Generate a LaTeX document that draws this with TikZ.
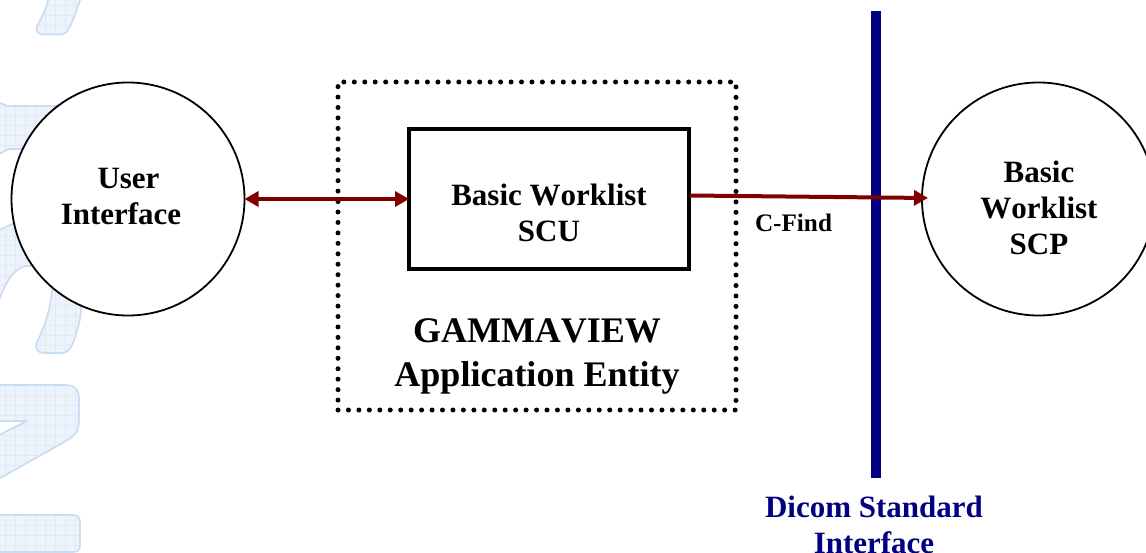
\documentclass[tikz,border=0pt]{standalone}
\usepackage{fontspec}
\setmainfont[Kerning=Off]{Liberation Serif}
\usetikzlibrary{arrows.meta}
\definecolor{wmfillc}{HTML}{EDF3FB}
\definecolor{wmlinec}{HTML}{C8DCF3}
\definecolor{wmgridc}{HTML}{E1E9F5}
\definecolor{arrowc}{HTML}{800000}
\definecolor{bluec}{HTML}{000080}
\newcommand{\wmshape}[1]{%
  \fill[wmfillc] #1;
  \begin{scope}\clip #1;
    \foreach \gx in {5,15,...,105} {\draw[wmgridc,line width=.6pt] (\gx,-10) -- (\gx,560);}
    \foreach \gy in {5,15,...,555} {\draw[wmgridc,line width=.6pt] (-10,\gy) -- (112,\gy);}
  \end{scope}
  \draw[wmlinec,line width=1.6pt,line join=round] #1;}
\tikzset{
  roundnode/.style={circle,draw=black,fill=white,line width=1.8pt,minimum size=233pt,inner sep=0pt,outer sep=0pt},
  boxnode/.style={draw=black,line width=3.2pt,minimum width=280pt,minimum height=140pt,inner sep=0pt,outer sep=0pt},
  dotbox/.style={draw=black,line width=5pt,line cap=round,dash pattern=on 0pt off 10.45pt,minimum width=398pt,minimum height=328pt,inner sep=0pt,outer sep=0pt},
  labeltext/.style={align=center,inner sep=0pt,font=\fontsize{31}{36}\selectfont\bfseries},
  link/.style={draw=arrowc,line width=4pt},
  tiplink/.style={link,-{Triangle[length=14pt,width=15pt]}},
  bothlink/.style={link,{Triangle[length=14pt,width=15pt]}-{Triangle[length=14pt,width=15pt]}}
}
\begin{document}
\begin{tikzpicture}[x=1pt,y=-1pt]
\useasboundingbox (0,0) rectangle (1146,553);
\fill[white] (0,0) rectangle (1146,553);
\wmshape{(80,-5) -- (80,0) .. controls (76,12) and (72,24) .. (68,30) .. controls (66,33) and (64,34.5) .. (60,34.5) -- (44,34.5) .. controls (37,34.5) and (35,30) .. (37,26) .. controls (42,17) and (46,9) .. (48,0) -- (48,-5) -- cycle}
\wmshape{(-5,101) -- (8,106) -- (60,106) -- (60,149) -- (9,149) -- (-5,156) -- cycle}
\wmshape{(-5,312) .. controls (3,287) and (12,267) .. (28,266) -- (50,266) .. controls (52,275) and (52,282) .. (52,291) .. controls (50,312) and (43,330) .. (37,342) .. controls (34,349) and (38,353) .. (44,353) -- (62,353) .. controls (68,353) and (71,348) .. (73,343) .. controls (78,330) and (81,318) .. (81,307) -- (81,270) -- (60,230) -- (12,224) -- (-5,232) -- cycle}
\wmshape{(-5,385) -- (66,385) .. controls (75,385) and (79,390) .. (79,398) -- (79,420) .. controls (79,430) and (76,435) .. (66,441) -- (-5,481) -- (-5,437) -- (27,421) -- (-5,421) -- cycle}
\wmshape{(-5,515) -- (73,515) .. controls (78,515) and (80,518) .. (80,522) -- (80,545) .. controls (80,550) and (78,552) .. (73,552) -- (-5,552) -- cycle}
\node[roundnode] (ui) at (128,199) {};
\node[labeltext] (uilabel) at (121,197) {\hspace*{15pt}User\\Interface};
\node[roundnode] (scp) at (1038.5,199) {};
\node[labeltext] (scplabel) at (1039,208) {Basic\\Worklist\\SCP};
\node[dotbox] (ae) at (537,246) {};
\node[boxnode] (scu) at (549,199) {};
\node[labeltext] (sculabel) at (549,213) {Basic Worklist\\SCU};
\node[align=center,inner sep=0pt,font=\fontsize{36}{44}\selectfont\bfseries] (aelabel) at (537,356) {GAMMAVIEW\\Application Entity};
\node[inner sep=0pt,font=\fontsize{25.2}{30}\selectfont\bfseries] (cfind) at (793.5,223) {C-Find};
\coordinate (itop) at (876,11);
\coordinate (ibot) at (876,478);
\draw[bluec,line width=10pt] (itop) -- (ibot);
\node[labeltext,text=bluec,font=\fontsize{31}{36}\selectfont\bfseries] (ilabel) at (874,524.5) {Dicom Standard\\Interface};
\draw[bothlink] (ui.east) -- (scu.west);
\coordinate (fstart) at (690,195.5);
\coordinate (fend) at (928,198);
\draw[tiplink] (fstart) -- (fend);
\end{tikzpicture}
\end{document}
